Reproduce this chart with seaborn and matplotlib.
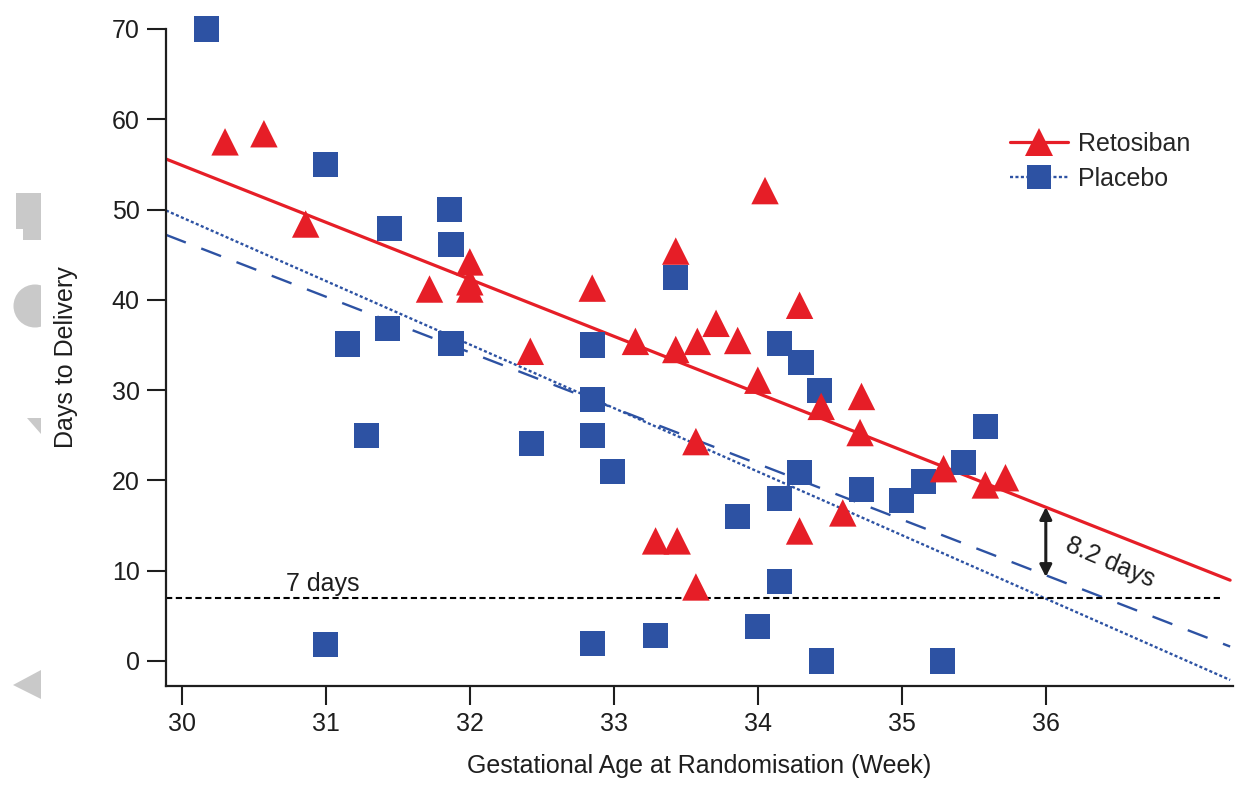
import numpy as np
import pandas as pd
import matplotlib
matplotlib.use("Agg")
import matplotlib.pyplot as plt
from matplotlib.lines import Line2D
from matplotlib.patches import Rectangle, Circle, Polygon
import seaborn as sns

# ---------------- data ----------------
placebo_ga = [30.17, 31.00, 31.44, 31.86, 31.87, 31.15, 31.43, 31.87, 31.28, 32.43,
              31.00, 32.85, 32.85, 32.85, 32.99, 33.43, 34.15, 34.30, 34.43, 34.29,
              33.86, 34.15, 34.72, 35.00, 35.15, 35.43, 35.58, 34.15, 32.85, 33.29,
              34.00, 34.44, 35.28]
placebo_days = [70.0, 55.0, 47.9, 50.0, 46.1, 35.1, 36.8, 35.2, 25.0, 24.1,
                1.8, 35.0, 29.0, 25.0, 21.0, 42.5, 35.2, 33.1, 30.0, 20.9,
                16.0, 18.0, 19.0, 17.8, 19.9, 22.0, 26.0, 8.8, 1.9, 2.8,
                3.8, 0.0, 0.0]

retosiban_ga = [30.30, 30.57, 30.86, 31.72, 32.00, 32.00, 32.00, 32.42, 32.85, 33.15,
                33.43, 33.43, 33.58, 33.71, 33.86, 34.00, 34.05, 34.29, 34.44, 34.72,
                34.71, 34.59, 34.29, 33.29, 33.44, 33.57, 33.57, 35.29, 35.58, 35.72]
retosiban_days = [57.5, 58.4, 48.4, 41.2, 44.2, 42.0, 41.2, 34.3, 41.3, 35.4,
                  45.4, 34.5, 35.4, 37.4, 35.5, 31.1, 52.1, 39.4, 28.2, 29.3,
                  25.3, 16.4, 14.4, 13.3, 13.3, 8.2, 24.3, 21.3, 19.5, 20.3]

# fitted lines (end points)
fit_x = [29.89, 37.28]
retosiban_fit = [55.6, 8.95]
placebo_fit_dotted = [49.9, -2.1]
placebo_fit_dashed = [47.2, 1.6]

threshold_days = 7
threshold_x = [29.89, 37.22]
gap_x = 36
gap_top, gap_bottom = 17.05, 9.3

x_ticks = [30, 31, 32, 33, 34, 35, 36]
y_ticks = [0, 10, 20, 30, 40, 50, 60, 70]

RED = "#E61E27"
BLUE = "#2D52A3"
INK = "#1e1e1e"
FS = 18

# ---------------- frames ----------------
df = pd.DataFrame({
    "ga": placebo_ga + retosiban_ga,
    "days": placebo_days + retosiban_days,
    "group": ["Placebo"] * len(placebo_ga) + ["Retosiban"] * len(retosiban_ga),
})
lines = pd.DataFrame({
    "x": fit_x * 3,
    "y": retosiban_fit + placebo_fit_dotted + placebo_fit_dashed,
    "fit": ["ret"] * 2 + ["dot"] * 2 + ["dash"] * 2,
})

sns.set_theme(style="white")
plt.rcParams["font.family"] = ["Liberation Sans", "DejaVu Sans"]

fig = plt.figure(figsize=(12.39, 7.87), dpi=100)
W, H = 1239, 787
ax = fig.add_axes([166 / W, 1 - 686 / H, (1233 - 166) / W, (686 - 29) / H])

# faint grey remnants at the left edge (pixel coordinates, from top)
GREY = "#c9c9c9"
def py(y):
    return H - y
fig.patches.append(Rectangle((16, py(229)), 25, 36, transform=None,
                             color=GREY, lw=0))
fig.patches.append(Rectangle((23, py(240)), 18, 12, transform=None,
                             color=GREY, lw=0))
clip = Rectangle((0, py(340)), 41, 60, transform=None, fill=False, lw=0)
fig.patches.append(clip)
circ = Circle((35, py(306)), 21.5, transform=None, color=GREY, lw=0)
circ.set_clip_path(clip)
fig.patches.append(circ)
fig.patches.append(Polygon([(27, py(418)), (41, py(418)), (41, py(434))],
                           closed=True, transform=None, color=GREY, lw=0))
fig.patches.append(Polygon([(13, py(685)), (41, py(670)), (41, py(699))],
                           closed=True, transform=None, color=GREY, lw=0))

# fitted lines
sns.lineplot(data=lines[lines.fit == "ret"], x="x", y="y", ax=ax, color=RED,
             lw=2.3, zorder=2, legend=False)
sns.lineplot(data=lines[lines.fit == "dot"], x="x", y="y", ax=ax, color=BLUE,
             lw=1.7, zorder=2, legend=False, linestyle=(0, (1.3, 1.0)))
sns.lineplot(data=lines[lines.fit == "dash"], x="x", y="y", ax=ax, color=BLUE,
             lw=1.7, zorder=2, legend=False, linestyle=(0, (9, 7)))

# 7-day threshold
ax.plot(threshold_x, [threshold_days] * 2, color="black", lw=1.5,
        linestyle=(0, (3.0, 1.7)), zorder=2)
ax.text(30.72, threshold_days + 0.25, "7 days", fontsize=FS, color=INK,
        ha="left", va="bottom")

# points
sns.scatterplot(data=df, x="ga", y="days", hue="group", style="group",
                size="group", sizes={"Placebo": 330, "Retosiban": 390},
                markers={"Placebo": "s", "Retosiban": "^"},
                palette={"Placebo": BLUE, "Retosiban": RED},
                linewidth=0, legend=False, ax=ax, zorder=3, clip_on=False)

# 8.2 days arrow
ax.annotate("", xy=(gap_x, gap_bottom), xytext=(gap_x, gap_top),
            arrowprops=dict(arrowstyle="<|-|>", color=INK, lw=2.2,
                            mutation_scale=18, shrinkA=0, shrinkB=0), zorder=4)
ax.text(36.45, 10.9, "8.2 days", fontsize=FS, color=INK, rotation=-23,
        ha="center", va="center", rotation_mode="anchor")

# axes styling
ax.set_xlim(29.89, 37.30)
ax.set_ylim(-2.77, 70)
ax.set_xticks(x_ticks)
ax.set_yticks(y_ticks)
ax.set_xticklabels([str(t) for t in x_ticks])
ax.set_yticklabels([str(t) for t in y_ticks])
for s in ["top", "right"]:
    ax.spines[s].set_visible(False)
for s in ["left", "bottom"]:
    ax.spines[s].set_color(INK)
    ax.spines[s].set_linewidth(1.6)
ax.tick_params(axis="both", which="major", bottom=True, left=True,
               direction="out", length=14, width=1.5, color=INK,
               labelsize=FS, labelcolor=INK, pad=5)
ax.set_xlabel("Gestational Age at Randomisation (Week)", fontsize=FS, color=INK,
              labelpad=13)
ax.set_ylabel("Days to Delivery", fontsize=FS, color=INK, labelpad=24)
ax.grid(False)

# legend
handles = [
    Line2D([0], [0], color=RED, lw=2.3, marker="^", markersize=20,
           markeredgewidth=0, markerfacecolor=RED),
    Line2D([0], [0], color=BLUE, lw=1.7, linestyle=(0, (1.3, 1.0)), marker="s",
           markersize=17, markeredgewidth=0, markerfacecolor=BLUE),
]
ax.legend(handles, ["Retosiban", "Placebo"], loc="upper left",
          bbox_to_anchor=((1010 - 166) / 1067, (686 - 132) / 657),
          frameon=False, fontsize=FS, handlelength=2.3, handletextpad=0.4,
          labelspacing=0.42, borderpad=0, borderaxespad=0)

fig.savefig("out.png", dpi=100, facecolor="white")
